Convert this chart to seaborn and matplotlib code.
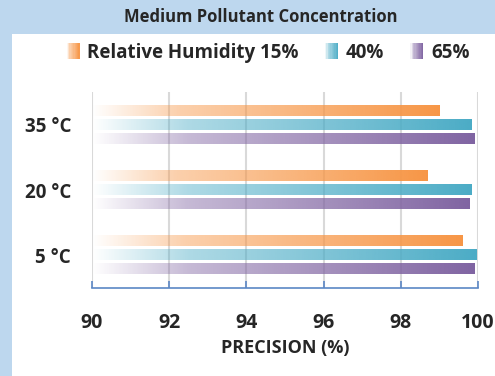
import numpy as np
import pandas as pd
import seaborn as sns
import matplotlib.pyplot as plt
from matplotlib.patches import Rectangle
from matplotlib.legend_handler import HandlerBase
from matplotlib.colors import to_rgb

temps = ["35 °C", "20 °C", "5 °C"]
humidity = ["Relative Humidity 15%", "40%", "65%"]
rh15 = [99.0, 98.7, 99.6]
rh40 = [99.82, 99.82, 99.95]
rh65 = [99.92, 99.77, 99.92]
colors = ["#F79646", "#4BACC6", "#8064A2"]
xticks = [90, 92, 94, 96, 98, 100]

df = pd.DataFrame({
    "temp": temps * 3,
    "rh": [humidity[0]] * 3 + [humidity[1]] * 3 + [humidity[2]] * 3,
    "precision": rh15 + rh40 + rh65,
})

sns.set_style("white")
plt.rcParams["font.family"] = ["Open Sans", "DejaVu Sans"]
plt.rcParams["font.weight"] = "bold"

fig = plt.figure(figsize=(4.95, 3.76), dpi=100, facecolor="#BDD7EE")
# white panel under the chart
fig.add_artist(Rectangle((12 / 495, 0), 1, 1 - 34 / 376, transform=fig.transFigure,
                         facecolor="white", edgecolor="none", zorder=0))
ax = fig.add_axes([92 / 495, 1 - 288 / 376, 386 / 495, 196 / 376])
ax.set_facecolor("white")

sns.barplot(data=df, y="temp", x="precision", hue="rh", order=temps,
            hue_order=humidity, palette=colors, saturation=1, width=0.643,
            gap=0.285, orient="h", legend=False, ax=ax)
ax.set_xlim(90, 100)

stops_t = [0, 0.25, 1]
stops_a = [0.0, 0.45, 1.0]
ramp_a = np.interp(np.linspace(0, 1, 256), stops_t, stops_a)


def gradient(col):
    rgba = np.zeros((1, 256, 4))
    rgba[0, :, :3] = to_rgb(col)
    rgba[0, :, 3] = ramp_a
    return rgba


# swap each solid bar for a left-to-right fade
for patch in list(ax.patches):
    x0, y0 = patch.get_x(), patch.get_y()
    w, h = patch.get_width(), patch.get_height()
    start = max(x0, 90)
    col = patch.get_facecolor()
    ax.imshow(gradient(col[:3]), extent=(start, x0 + w, y0 + h, y0),
              aspect="auto", interpolation="bilinear", zorder=2)
    patch.set_visible(False)
ax.set_xlim(90, 100)
ax.set_ylim(2.5, -0.5)

ax.set_xticks(xticks)
ax.grid(axis="x", color="#D9D9D9", linewidth=1.5)
ax.set_axisbelow(True)
for s in ["top", "right", "left"]:
    ax.spines[s].set_visible(False)
ax.spines["bottom"].set_color("#5B87C5")
ax.spines["bottom"].set_linewidth(1.2)
ax.tick_params(axis="x", bottom=True, direction="in", length=5, color="#5B87C5",
               width=1.2, pad=18, labelsize=14)
ax.tick_params(axis="y", left=False, length=0, pad=15, labelsize=13.5)
ax.set_ylabel("")
ax.set_xlabel("PRECISION (%)", fontsize=13, fontweight="bold", labelpad=4)


class GradHandler(HandlerBase):
    def create_artists(self, legend, orig_handle, xdescent, ydescent,
                       width, height, fontsize, trans):
        col = to_rgb(orig_handle.get_facecolor())
        n = 10
        arts = []
        for i in range(n):
            a = np.interp((i + 0.5) / n, stops_t, stops_a)
            r = Rectangle((-xdescent + width * i / n, -ydescent - 1), width / n, height + 2,
                          facecolor=col, alpha=a, edgecolor="none", transform=trans)
            arts.append(r)
        return arts


handles = [Rectangle((0, 0), 1, 1, facecolor=c) for c in colors]
fig.legend(handles, humidity, ncol=3, frameon=False, loc="center",
           bbox_to_anchor=(268 / 495, 1 - 53 / 376),
           handler_map={Rectangle: GradHandler()}, handlelength=0.7,
           handletextpad=0.4, columnspacing=1.4, prop={"weight": "bold", "size": 13.5})

fig.text(261 / 495, 1 - 17 / 376, "Medium Pollutant Concentration",
         ha="center", va="center", fontsize=12, fontweight="bold")

fig.savefig("out.png", dpi=100, facecolor=fig.get_facecolor())
